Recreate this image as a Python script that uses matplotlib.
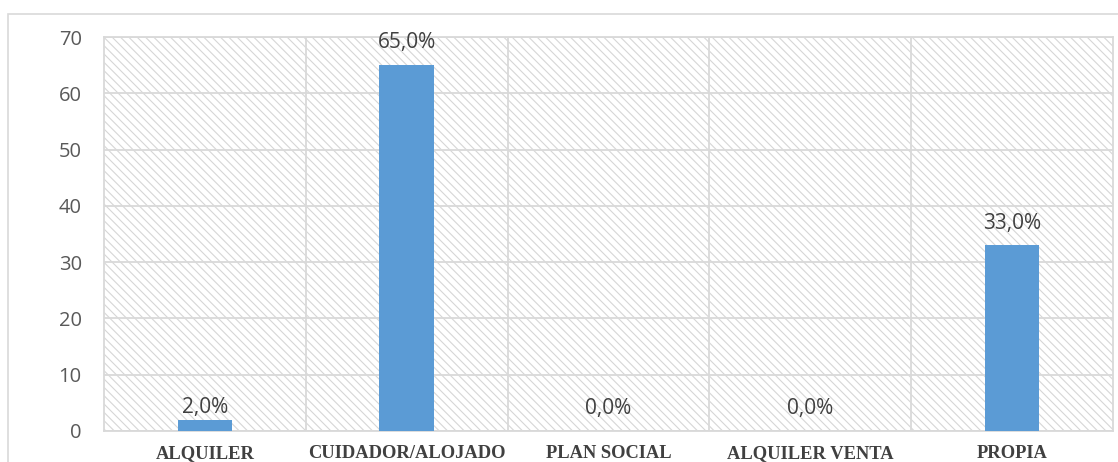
import matplotlib
matplotlib.use("Agg")
import matplotlib.pyplot as plt
from matplotlib.patches import Rectangle

categories = ["ALQUILER", "CUIDADOR/ALOJADO", "PLAN SOCIAL", "ALQUILER VENTA", "PROPIA"]
values = [2.0, 65.0, 0.0, 0.0, 33.0]
labels = ["2,0%", "65,0%", "0,0%", "0,0%", "33,0%"]
yticks = [0, 10, 20, 30, 40, 50, 60, 70]

grid_col = "#d9d9d9"
hatch_col = "#d6d6d6"
bar_col = "#5b9bd5"
text_col = "#404040"
tick_col = "#595959"

plt.rcParams["hatch.linewidth"] = 0.8

fig = plt.figure(figsize=(11.18, 4.62), dpi=100)
fig.patch.set_facecolor("white")

# chart-area frame
fig.patches.append(Rectangle((8 / 1118, -0.05), 1.2, (462 - 14) / 462 + 0.05,
                             transform=fig.transFigure, fill=False,
                             edgecolor=grid_col, linewidth=1.2, clip_on=False))

ax = fig.add_axes([104 / 1118, 31 / 462, (1113 - 104) / 1118, (431 - 37) / 462])
ax.set_facecolor("white")

# hatched plot background
ax.add_patch(Rectangle((0, 0), 1, 1, transform=ax.transAxes, facecolor="white",
                       edgecolor=hatch_col, hatch="\\" * 4, linewidth=0, zorder=0))

x = range(len(categories))
ax.bar(x, values, width=0.27, color=bar_col, zorder=3)

for xi, v, lab in zip(x, values, labels):
    off = 9 if 0 < v < 5 else 16
    ax.annotate(lab, (xi, v), xytext=(0, off), textcoords="offset points",
                ha="center", va="center", fontsize=15, color=text_col,
                family="Open Sans", zorder=4)

ax.set_xlim(-0.5, len(categories) - 0.5)
ax.set_ylim(0, 70)
ax.set_yticks(yticks)
ax.set_yticklabels([str(t) for t in yticks], fontsize=14.5, color=tick_col, family="Open Sans")
ax.set_xticks(list(x))
ax.set_xticklabels(categories, fontsize=13.3, fontweight="bold",
                   family="Liberation Serif", color=text_col)

# gridlines
for t in yticks:
    ax.axhline(t, color=grid_col, linewidth=1.3, zorder=1)
for b in [i + 0.5 for i in range(len(categories) - 1)]:
    ax.axvline(b, color=grid_col, linewidth=1.3, zorder=1)

for s in ax.spines.values():
    s.set_color(grid_col)
    s.set_linewidth(1.3)
ax.tick_params(axis="both", length=0)
ax.tick_params(axis="y", pad=16)
ax.tick_params(axis="x", pad=10)

fig.savefig("out.png", dpi=100)
